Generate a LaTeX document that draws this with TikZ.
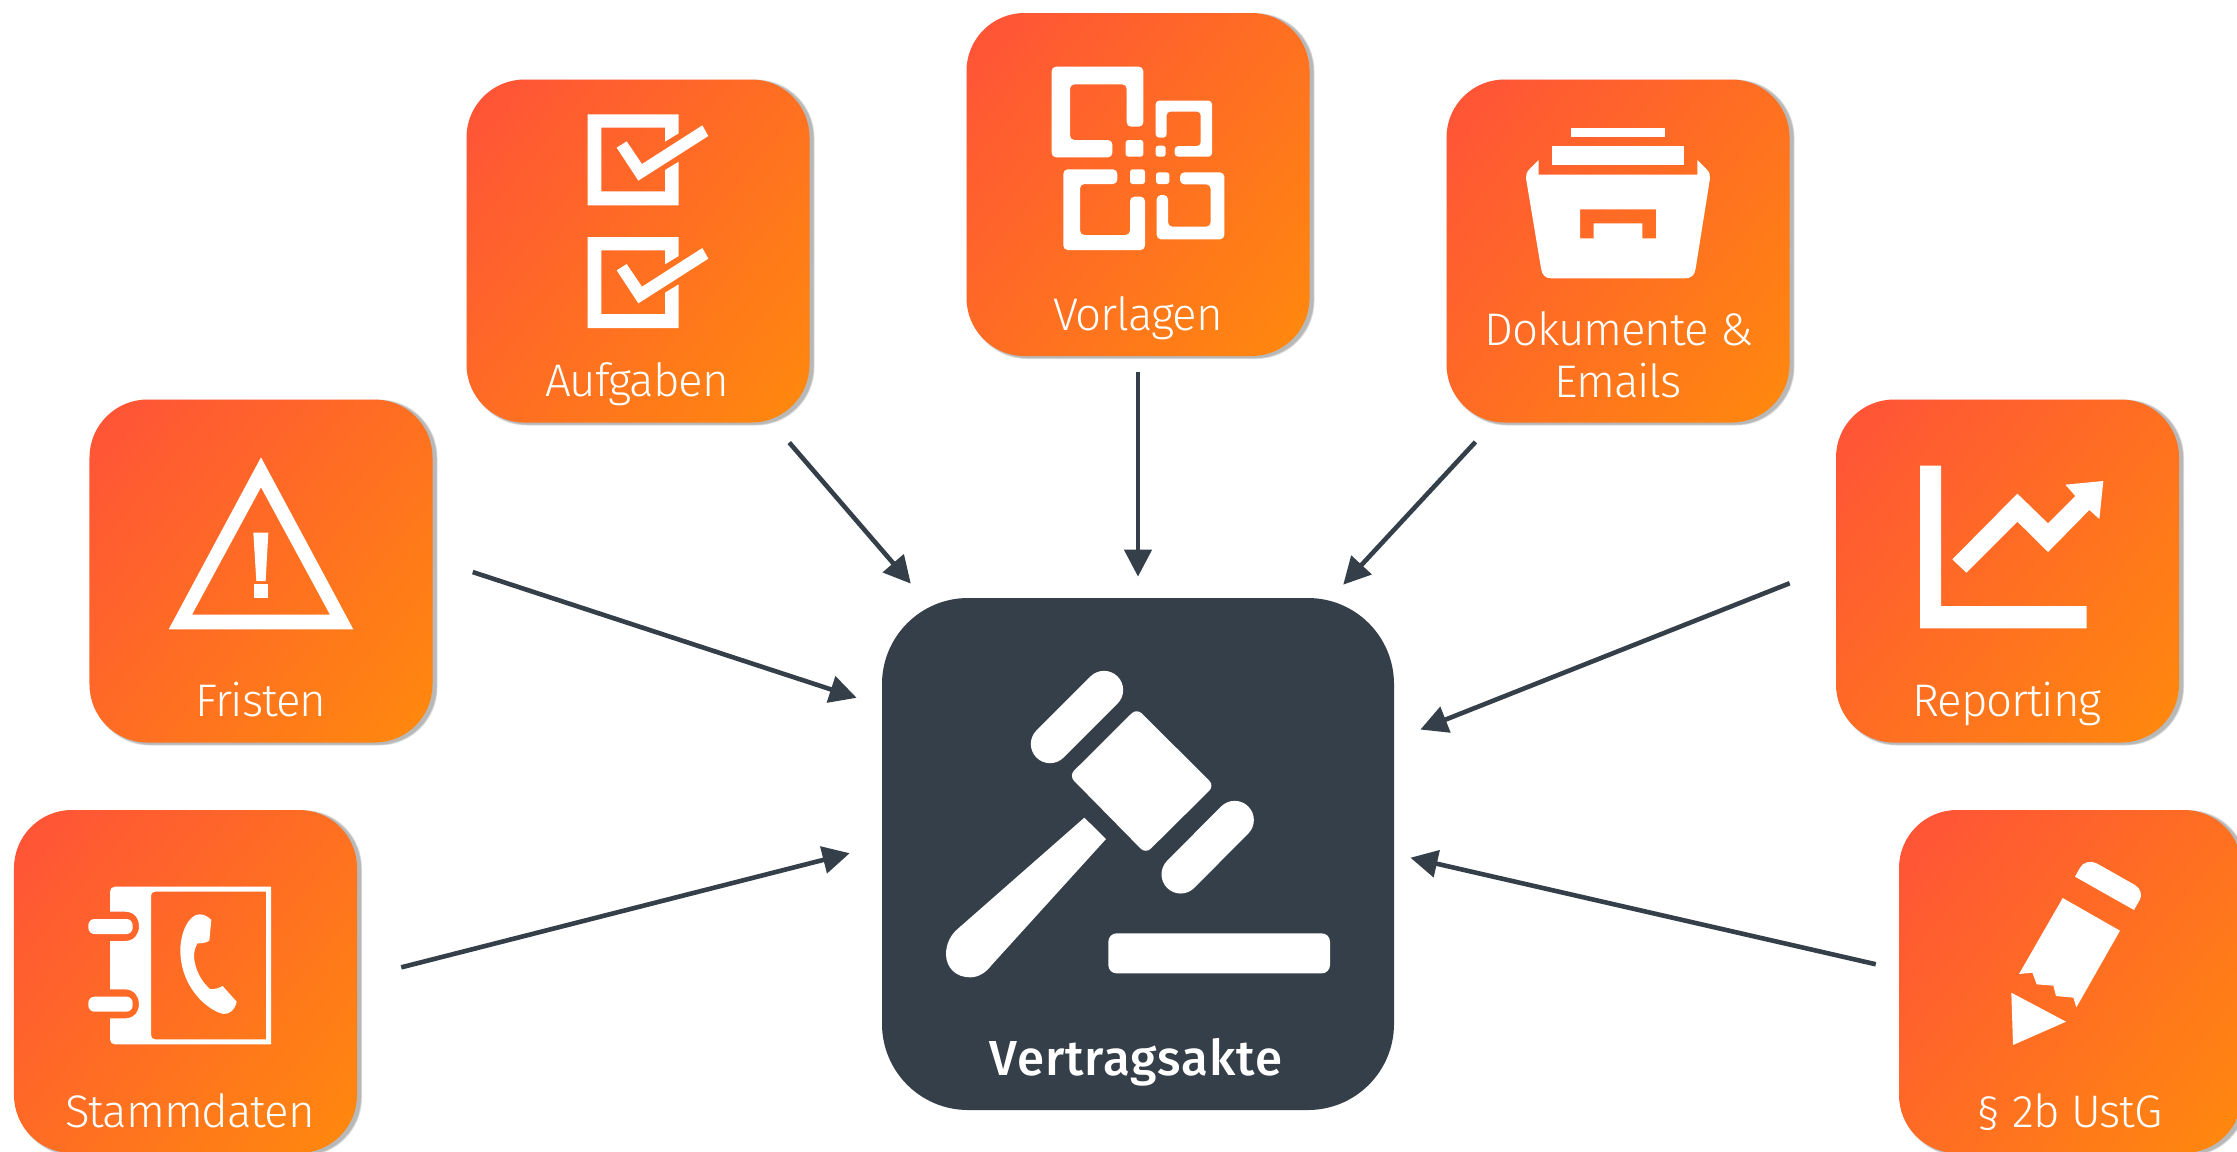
\documentclass[tikz,border=0pt]{standalone}
\usepackage{fontspec}
\usetikzlibrary{arrows.meta,shadings}
\newfontfamily\lightf[UprightFont=* Light,LetterSpace=-2.4]{Fira Sans}
\newfontfamily\boldf[UprightFont=* Medium,LetterSpace=2]{Fira Sans}
\definecolor{dark}{HTML}{353F49}
\definecolor{hot}{HTML}{FF5338}
\definecolor{warm}{HTML}{FF8A0C}
\pgfdeclareverticalshading{tilegrad}{100bp}{color(0bp)=(warm); color(14bp)=(warm); color(84bp)=(hot); color(100bp)=(hot)}
\tikzset{
  tile/.style={rectangle,rounded corners=33pt,minimum size=68.6mm,inner sep=0pt,
    shading=tilegrad,shading angle=50},
  hub/.style={rectangle,rounded corners=49pt,minimum size=102.4mm,inner sep=0pt,fill=dark},
  halo/.style={rectangle,rounded corners=33pt,inner sep=0pt,fill=black,fill opacity=.1},
  tilelabel/.style={anchor=base,text=white,font=\lightf\fontsize{26}{31}\selectfont,inner sep=0pt},
  hublabel/.style={anchor=base,text=white,font=\boldf\fontsize{28}{33}\selectfont,inner sep=0pt},
  conn/.style={draw=dark,line width=.92mm,-{Triangle[length=5.4mm,width=5.4mm]}},
  zm/.style={x=.066667mm,y=-.066667mm},
  ink/.style={fill=white,draw=none},
  bar/.style={draw=white,line width=7.67mm,line cap=round},
}
\newcommand{\tilebox}[3]{%
  \foreach \g in {69.2,69.0,68.8}{\node[halo,minimum size=\g mm] at ([shift={(3.5,1.5)}]#2,#3) {};}
  \node[tile] (#1) at (#2,#3) {};}
\begin{document}
\begin{tikzpicture}[x=.2mm,y=-.2mm]
\useasboundingbox (0,0) rectangle (2237,1151);
\clip (0,0) rectangle (2237,1151);
\fill[white] (0,0) rectangle (2237,1151);
% tiles
\tilebox{stamm}{185.5}{981.5}
\tilebox{fristen}{261}{571}
\tilebox{aufgaben}{638}{251}
\tilebox{vorlagen}{1138}{184.5}
\tilebox{dokumente}{1618}{251}
\tilebox{reporting}{2007.5}{571}
\tilebox{ustg}{2070.5}{981.5}
\node[hub] (akte) at (1138,854) {};
% connectors
\draw[conn,shorten <=9.06mm,shorten >=6.6mm] (stamm.1.57) -- (akte.178.7);
\draw[conn,shorten <=8.4mm,shorten >=5.26mm] (fristen.4.35) -- (akte.150.07);
\draw[conn,shorten <=5.2mm,shorten >=3.7mm] (aufgaben.-52.76) -- (akte.130.7);
\draw[conn,shorten <=3.2mm,shorten >=4.2mm] (vorlagen.south) -- (akte.north);
\draw[conn,shorten <=5.2mm,shorten >=3.54mm] (dokumente.-126.7) -- (akte.53.56);
\draw[conn,shorten <=9.9mm,shorten >=5.6mm] (reporting.178.4) -- (akte.24.36);
\draw[conn,shorten <=4.7mm,shorten >=3.3mm] (ustg.176.6) -- (akte.-0.54);
% labels
\node[tilelabel] (l1) at (190,1127) {Stammdaten};
\node[tilelabel] (l2) at (261,716) {Fristen};
\node[tilelabel] (l3) at (637,396) {Aufgaben};
\node[tilelabel] (l4) at (1138,330) {Vorlagen};
\node[tilelabel] (l5) at (1619,345) {Dokumente \&};
\node[tilelabel] (l5b) at (1618,397) {Emails};
\node[tilelabel] (l6) at (2007,716) {Reporting};
\node[tilelabel] (l7) at (2069.5,1127) {§ 2b UstG};
\node[hublabel] (l8) at (1136,1075) {Vertragsakte};
% address book
\begin{scope}[shift={(0,780)},zm]
\fill[ink,even odd rule] (345,320) -- (813,320) -- (813,793) -- (345,793) .. controls (336,793) and (330,787) .. (330,778) -- (330,715) -- (375,715)
  .. controls (403,715) and (417,695) .. (417,671) .. controls (417,650) and (403,628) .. (375,628) -- (330,628) -- (330,483) -- (375,483)
  .. controls (403,483) and (417,462) .. (417,439) .. controls (417,415) and (403,395) .. (375,395) -- (330,395) -- (330,335) .. controls (330,326) and (336,320) .. (345,320) -- cycle
  (465,335) -- (798,335) -- (798,778) -- (465,778) .. controls (458,778) and (453,772) .. (453,765) -- (453,347) .. controls (453,340) and (458,335) .. (465,335) -- cycle;
\fill[ink,rounded corners=3.5pt] (265,417) rectangle (398,462);
\fill[ink,rounded corners=3.5pt] (265,650) rectangle (398,695);
\fill[ink] (597,403) .. controls (612,402) and (625,410) .. (634,420) -- (628,482) .. controls (615,490) and (603,490) .. (592,490) .. controls (585,505) and (582,515) .. (582,530)
  .. controls (585,570) and (605,605) .. (630,627) .. controls (645,628) and (655,625) .. (668,618) -- (710,665) .. controls (705,690) and (690,702) .. (670,702)
  .. controls (620,690) and (541,620) .. (541,510) .. controls (541,460) and (565,405) .. (597,403) -- cycle;
\end{scope}
% warning
\begin{scope}[shift={(90,400)},zm]
\fill[ink,even odd rule] (513,172) -- (790,688) -- (236,688) -- cycle (513,262) -- (720,644) -- (306,644) -- cycle;
\fill[ink] (490,398) -- (535,398) -- (527,543) -- (499,543) -- cycle;
\fill[ink] (493,553) rectangle (533,593);
\end{scope}
% checklist
\begin{scope}[shift={(460,80)},zm]
\foreach \d in {0,368}{
\begin{scope}[yshift={-\d*.066667mm}]
\fill[ink] (383,103) -- (656,103) -- (656,160) -- (615,185) -- (615,143) -- (424,143) -- (424,334) -- (615,334) -- (615,270) -- (656,245) -- (656,376) -- (383,376) -- cycle;
\fill[ink] (470,203) -- (500,184) -- (546,252) -- (727,136) -- (745,168) -- (535,302) -- cycle;
\end{scope}}
\end{scope}
% templates
\begin{scope}[shift={(950,0)},zm]
\fill[ink,rounded corners=2.5pt] (305,200) -- (580,200) -- (580,380) -- (530,380) -- (530,253) -- (360,253) -- (360,420) -- (487,420) -- (487,472) -- (305,472) -- cycle;
\fill[ink,rounded corners=1.5pt] (527,420) rectangle (580,470);
\fill[ink,rounded corners=2pt] (617,302) -- (786,302) -- (786,470) -- (674,470) -- (674,438) -- (752,438) -- (752,335) -- (650,335) -- (650,413) -- (617,413) -- cycle;
\fill[ink,rounded corners=1.5pt] (617,437) rectangle (647,470);
\fill[ink,rounded corners=2.5pt] (340,508) -- (502,508) -- (502,552) -- (390,552) -- (390,705) -- (540,705) -- (540,590) -- (585,590) -- (585,750) -- (340,750) -- cycle;
\fill[ink,rounded corners=1.5pt] (540,508) rectangle (585,552);
\fill[ink,rounded corners=1.5pt] (618,517) rectangle (658,552);
\fill[ink,rounded corners=2.5pt] (690,517) -- (823,517) -- (823,718) -- (620,718) -- (620,585) -- (654,585) -- (654,680) -- (782,680) -- (782,553) -- (690,553) -- cycle;
\end{scope}
% archive box
\begin{scope}[shift={(1430,60)},zm]
\fill[ink] (423,203) rectangle (705,230);
\fill[ink] (367,258) rectangle (762,314);
\fill[ink,even odd rule] (326,300) -- (326,344) -- (802,344) -- (802,300) -- (830,328) .. controls (838,336) and (841,345) .. (840,355) -- (797,625)
  .. controls (794,645) and (785,655) .. (765,655) -- (365,655) .. controls (345,655) and (336,645) .. (333,625) -- (288,355) .. controls (287,345) and (290,336) .. (298,328) -- cycle
  (450,448) -- (678,448) -- (678,535) -- (637,535) -- (637,490) -- (491,490) -- (491,535) -- (450,535) -- cycle;
\end{scope}
% chart
\begin{scope}[shift={(1830,400)},zm]
\fill[ink] (270,197) -- (333,197) -- (333,618) -- (770,618) -- (770,685) -- (270,685) -- cycle;
\fill[ink] (367,478) -- (562,281) -- (654,370) -- (736,288) -- (706,254) -- (820,243) -- (808,357) -- (778,330) -- (654,456) -- (562,365) -- (409,518) -- cycle;
\end{scope}
% pencil
\begin{scope}[shift={(1880,800)},zm]
\fill[ink] (585,230) -- (600,203) .. controls (608,187) and (632,180) .. (650,190) -- (765,255) .. controls (782,265) and (787,285) .. (780,298) -- (762,330) -- cycle;
\fill[ink] (548,294) -- (720,392) -- (589,622) -- (580,593) -- (528,588) -- (520,557) -- (470,553) -- (457,518) -- (417,522) -- cycle;
\fill[ink] (394,578) -- (558,665) -- (399,735) -- cycle;
\end{scope}
% gavel
\begin{scope}[shift={(880,600)},zm]
\draw[bar] (510,432) -- (672,270);
\draw[bar] (902,823) -- (1064,660);
\fill[ink,rounded corners=4pt] (770,325) -- (1003,557) -- (797,761) -- (567,527) -- cycle;
\fill[ink] (613,653) -- (678,717) -- (335,1095) .. controls (318,1118) and (295,1132) .. (270,1132) .. controls (230,1132) and (198,1105) .. (198,1062) .. controls (198,1035) and (210,1005) .. (235,985) -- cycle;
\fill[ink,rounded corners=4.7pt] (685,1000) rectangle (1350,1120);
\end{scope}
\end{tikzpicture}
\end{document}
